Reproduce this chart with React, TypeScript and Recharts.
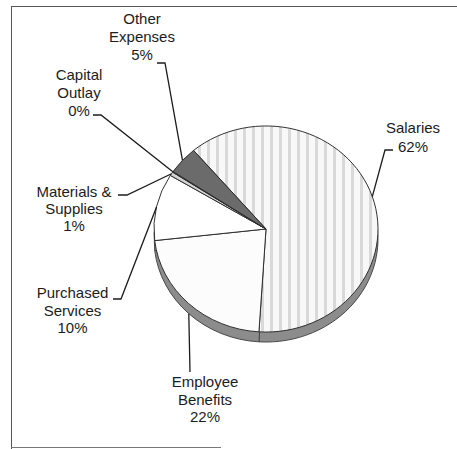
import React from 'react';
import { PieChart, Pie, Cell, Sector } from 'recharts';

const categories = [
  'Salaries',
  'Employee Benefits',
  'Purchased Services',
  'Materials & Supplies',
  'Capital Outlay',
  'Other Expenses',
];
const shares = [62.2, 22.2, 10.5, 0.6, 0.1, 4.4];
const shownPct = ['62%', '22%', '10%', '1%', '0%', '5%'];
const labelLines = [
  ['Salaries'],
  ['Employee', 'Benefits'],
  ['Purchased', 'Services'],
  ['Materials &', 'Supplies'],
  ['Capital', 'Outlay'],
  ['Other', 'Expenses'],
];

const data = categories.map((name, i) => ({ name, value: shares[i] }));

const FILLS = ['url(#stripes)', '#fcfcfc', '#ffffff', '#d4d4d4', '#9a9a9a', '#6b6b6b'];

const CX = 266;
const CY = 229;
const R = 112;
const SQUASH = 0.92;
const DEPTH = 10;
const START = 130.3;

// text centre, first baseline, line gap, short elbow before the leader
const LABEL_LAYOUT = [
  { x: 413, y: 133, gap: 19, tick: [393, 150, 385, 150], rim: false },
  { x: 205, y: 387, gap: 17.5, tick: [190, 372, 190, 372], rim: true },
  { x: 72.5, y: 298, gap: 17.5, tick: [113, 299, 121, 299], rim: false },
  { x: 74, y: 197, gap: 17, tick: [118, 195, 127, 195], rim: false },
  { x: 79, y: 80, gap: 18, tick: [93, 115, 101, 115], rim: false },
  { x: 142, y: 24, gap: 18, tick: [157, 63, 165, 63], rim: false },
];

const squashed = (props: any) => {
  const { cy } = props;
  return (
    <g transform={`translate(0, ${cy * (1 - SQUASH)}) scale(1, ${SQUASH})`}>
      <Sector {...props} />
    </g>
  );
};

const renderLabel = (props: any) => {
  const { cx, cy, midAngle, outerRadius, index } = props;
  const lay = LABEL_LAYOUT[index];
  const rad = (midAngle * Math.PI) / 180;
  const ex = cx + outerRadius * Math.cos(rad);
  const ey = cy - outerRadius * Math.sin(rad) * SQUASH + (lay.rim ? DEPTH : 0);
  const [x1, y1, x2, y2] = lay.tick;
  const lines = [...labelLines[index], shownPct[index]];
  return (
    <g key={`lbl-${index}`}>
      <polyline
        points={`${x1},${y1} ${x2},${y2} ${ex},${ey}`}
        fill="none"
        stroke="#1c1c1c"
        strokeWidth={1.3}
      />
      <text
        x={lay.x}
        y={lay.y}
        textAnchor="middle"
        fontFamily="'Liberation Sans', Arial, sans-serif"
        fontSize={15}
        fill="#1c1c1c"
      >
        {lines.map((t, k) => (
          <tspan key={k} x={lay.x} y={lay.y + k * lay.gap}>
            {t}
          </tspan>
        ))}
      </text>
    </g>
  );
};

export default function App() {
  return (
    <div style={{ position: 'absolute', left: 0, top: 0, width: 457, height: 449, background: '#fff' }}>
      <div
        style={{
          position: 'absolute',
          left: 11,
          top: 6,
          width: 446,
          height: 442,
          borderTop: '1.5px solid #555',
          borderLeft: '1.5px solid #555',
        }}
      />
      <div
        style={{
          position: 'absolute',
          left: 11,
          top: 447,
          width: 210,
          height: 0,
          borderTop: '1.5px solid #777',
        }}
      />
      <PieChart
        width={457}
        height={449}
        margin={{ top: 0, right: 0, bottom: 0, left: 0 }}
        style={{ position: 'absolute', left: 0, top: 0 }}
      >
        <defs>
          <pattern id="stripes" width="9" height="9" patternUnits="userSpaceOnUse">
            <rect width="9" height="9" fill="#f8f8f8" />
            <rect x="0" width="3" height="9" fill="#d9d9d9" />
          </pattern>
        </defs>
        <Pie
          data={data}
          dataKey="value"
          cx={CX}
          cy={CY + DEPTH}
          outerRadius={R}
          startAngle={START}
          endAngle={START - 360}
          stroke="#444"
          strokeWidth={1}
          shape={squashed}
          isAnimationActive={false}
        >
          {data.map((d) => (
            <Cell key={d.name} fill="#8c8c8c" />
          ))}
        </Pie>
        <Pie
          data={data}
          dataKey="value"
          cx={CX}
          cy={CY}
          outerRadius={R}
          startAngle={START}
          endAngle={START - 360}
          stroke="#2a2a2a"
          strokeWidth={1}
          shape={squashed}
          label={renderLabel}
          labelLine={false}
          isAnimationActive={false}
        >
          {data.map((d, i) => (
            <Cell key={d.name} fill={FILLS[i]} />
          ))}
        </Pie>
      </PieChart>
    </div>
  );
}
